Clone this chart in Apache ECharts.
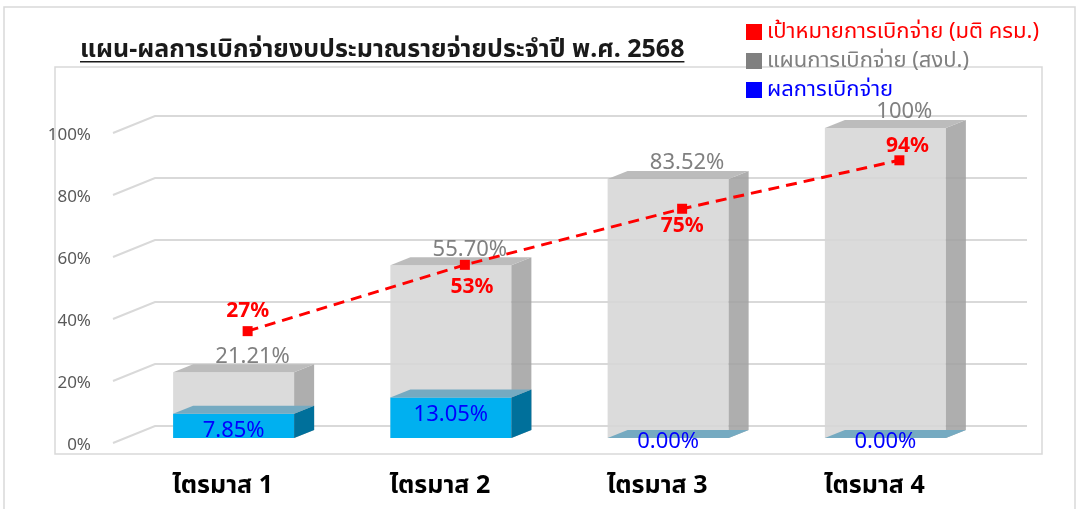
<!DOCTYPE html>
<html>
<head>
<meta charset="utf-8">
<script src="https://cdn.jsdelivr.net/npm/echarts@6/dist/echarts.min.js"></script>
<style>
html,body{margin:0;padding:0;background:#fff;}
#chart{width:1077px;height:509px;}
</style>
</head>
<body>
<div id="chart"></div>
<script>
// ---------------- data ----------------
const titleText = 'แผน-ผลการเบิกจ่ายงบประมาณรายจ่ายประจำปี พ.ศ. 2568';
const categories = ['ไตรมาส 1', 'ไตรมาส 2', 'ไตรมาส 3', 'ไตรมาส 4'];
const targetName = 'เป้าหมายการเบิกจ่าย (มติ ครม.)';
const planName = 'แผนการเบิกจ่าย (สงป.)';
const resultName = 'ผลการเบิกจ่าย';
const targetValues = [27, 53, 75, 94];
const planValues = [21.21, 55.70, 83.52, 100];
const resultValues = [7.85, 13.05, 0.00, 0.00];
const yTicks = [0, 20, 40, 60, 80, 100];

// ---------------- styles ----------------
const FONT = "'Noto Sans', 'Noto Sans Thai', Tahoma, 'DejaVu Sans', sans-serif";
const DX = 20, DY = 8;           // 3D depth offset of bars
const BAR_RATIO = 0.557;

function barRenderer(colors, labelFn) {
  return function (params, api) {
    const xi = api.value(0), v = api.value(1);
    const base = api.coord([xi, 0]);
    const top = api.coord([xi, v]);
    const bw = api.size([1, 0])[0] * BAR_RATIO;
    const xl = base[0] - bw / 2, xr = base[0] + bw / 2;
    const yb = base[1], yt = top[1];
    const children = [
      { type: 'rect', shape: { x: xl, y: yt, width: bw, height: yb - yt }, style: { fill: colors.front } },
      { type: 'polygon', shape: { points: [[xr, yt], [xr + DX, yt - DY], [xr + DX, yb - DY], [xr, yb]] }, style: { fill: colors.side } },
      { type: 'polygon', shape: { points: [[xl, yt], [xl + DX, yt - DY], [xr + DX, yt - DY], [xr, yt]] }, style: { fill: colors.top } }
    ];
    const lab = labelFn(v, base[0], yt, yb);
    children.push({ type: 'text', x: lab.x, y: lab.y, style: lab.style, z2: 10 });
    return { type: 'group', children: children };
  };
}

function wallRenderer(params, api) {
  const cs = params.coordSys;
  const p = api.coord([0, api.value(1)]);
  const y = p[1];
  return {
    type: 'polyline',
    shape: { points: [[cs.x - 12, y + 5], [cs.x + 30, y - 12], [cs.x + 902, y - 12]] },
    style: { stroke: '#d9d9d9', lineWidth: 2, fill: null }
  };
}

const chart = echarts.init(document.getElementById('chart'), null, { renderer: 'canvas' });

// measure title width for underline
const TITLE_FONT = 'bold 25px ' + FONT;
const cvs = document.createElement('canvas').getContext('2d');
cvs.font = TITLE_FONT;
const titleW = cvs.measureText(titleText).width;

const targetLabelPos = ['top', 'bottom', 'bottom', 'top'];
const targetLabelOffset = [[0, 0], [7, 2], [0, -3], [8, 6]];

const option = {
  backgroundColor: '#fff',
  animation: false,
  textStyle: { fontFamily: FONT },
  graphic: [
    { type: 'rect', shape: { x: 4, y: 7, width: 1071, height: 520 }, style: { fill: null, stroke: '#d9d9d9', lineWidth: 1.5 }, z: -10 },
    { type: 'rect', shape: { x: 55, y: 67, width: 987, height: 387 }, style: { fill: null, stroke: '#d9d9d9', lineWidth: 1.5 }, z: -10 },
    { type: 'text', x: 80, y: 50, style: { text: titleText, font: TITLE_FONT, fill: '#1a1a1a', textVerticalAlign: 'middle', textAlign: 'left' } },
    { type: 'rect', shape: { x: 80, y: 61, width: titleW, height: 1.6 }, style: { fill: '#1a1a1a' } }
  ],
  legend: {
    orient: 'vertical',
    left: 741,
    top: 16,
    icon: 'rect',
    itemWidth: 16,
    itemHeight: 16,
    itemGap: 7,
    selectedMode: false,
    textStyle: { fontSize: 22, lineHeight: 22, fontFamily: FONT },
    data: [
      { name: targetName, textStyle: { color: '#ff0000' } },
      { name: planName, textStyle: { color: '#808080' } },
      { name: resultName, textStyle: { color: '#0000ff' } }
    ]
  },
  grid: [
    { left: 125, width: 869, top: 128, height: 310 },
    { left: 139, width: 869, top: 145, height: 255 }
  ],
  xAxis: [
    {
      type: 'category', gridIndex: 0, data: categories,
      axisLine: { show: false }, axisTick: { show: false },
      axisLabel: { margin: 35, fontSize: 25, fontWeight: 'bold', color: '#000', fontFamily: FONT, padding: [0, 22, 0, 0] }
    },
    { type: 'category', gridIndex: 1, data: categories, show: false }
  ],
  yAxis: [
    {
      type: 'value', gridIndex: 0, min: yTicks[0], max: yTicks[yTicks.length - 1], interval: yTicks[1] - yTicks[0],
      splitLine: { show: false }, axisLine: { show: false }, axisTick: { show: false },
      axisLabel: { formatter: '{value}%', fontSize: 17, color: '#595959', margin: 34, verticalAlign: 'top', lineHeight: 15, fontFamily: FONT }
    },
    { type: 'value', gridIndex: 1, min: 0, max: 100, show: false }
  ],
  series: [
    {
      name: 'walls', type: 'custom', xAxisIndex: 0, yAxisIndex: 0, silent: true, z: 1,
      renderItem: wallRenderer,
      data: yTicks.map(function (t) { return [0, t]; })
    },
    {
      name: planName, type: 'custom', xAxisIndex: 0, yAxisIndex: 0, z: 2,
      itemStyle: { color: '#808080' },
      renderItem: barRenderer(
        { front: 'rgba(214,214,214,0.88)', side: 'rgba(160,160,160,0.85)', top: 'rgba(184,184,184,0.95)' },
        function (v, cx, yt, yb) {
          return { x: cx + 19, y: yt - 16, style: { text: (v === 100 ? '100' : v.toFixed(2)) + '%', font: '22px ' + FONT, fill: '#808080', textAlign: 'center', textVerticalAlign: 'middle' } };
        }),
      data: planValues.map(function (v, i) { return [i, v]; })
    },
    {
      name: resultName, type: 'custom', xAxisIndex: 0, yAxisIndex: 0, z: 3,
      itemStyle: { color: '#0000ff' },
      renderItem: barRenderer(
        { front: '#00b0f0', side: '#00709b', top: '#75aac1' },
        function (v, cx, yt, yb) {
          return { x: cx, y: Math.min(yt + 17, yb + 4), style: { text: v.toFixed(2) + '%', font: '22px ' + FONT, fill: '#0000ff', textAlign: 'center', textVerticalAlign: 'middle' } };
        }),
      data: resultValues.map(function (v, i) { return [i, v]; })
    },
    {
      name: targetName, type: 'line', xAxisIndex: 1, yAxisIndex: 1, z: 5,
      symbol: 'rect', symbolSize: 10,
      itemStyle: { color: '#ff0000' },
      lineStyle: { color: '#ff0000', width: 3, type: [11, 7] },
      label: { show: true, formatter: '{c}%', color: '#ff0000', fontSize: 21, fontWeight: 'bold', fontFamily: FONT, distance: 5 },
      data: targetValues.map(function (v, i) { return { value: v, label: { position: targetLabelPos[i], offset: targetLabelOffset[i] } }; })
    }
  ]
};
chart.setOption(option);
</script>
</body>
</html>
